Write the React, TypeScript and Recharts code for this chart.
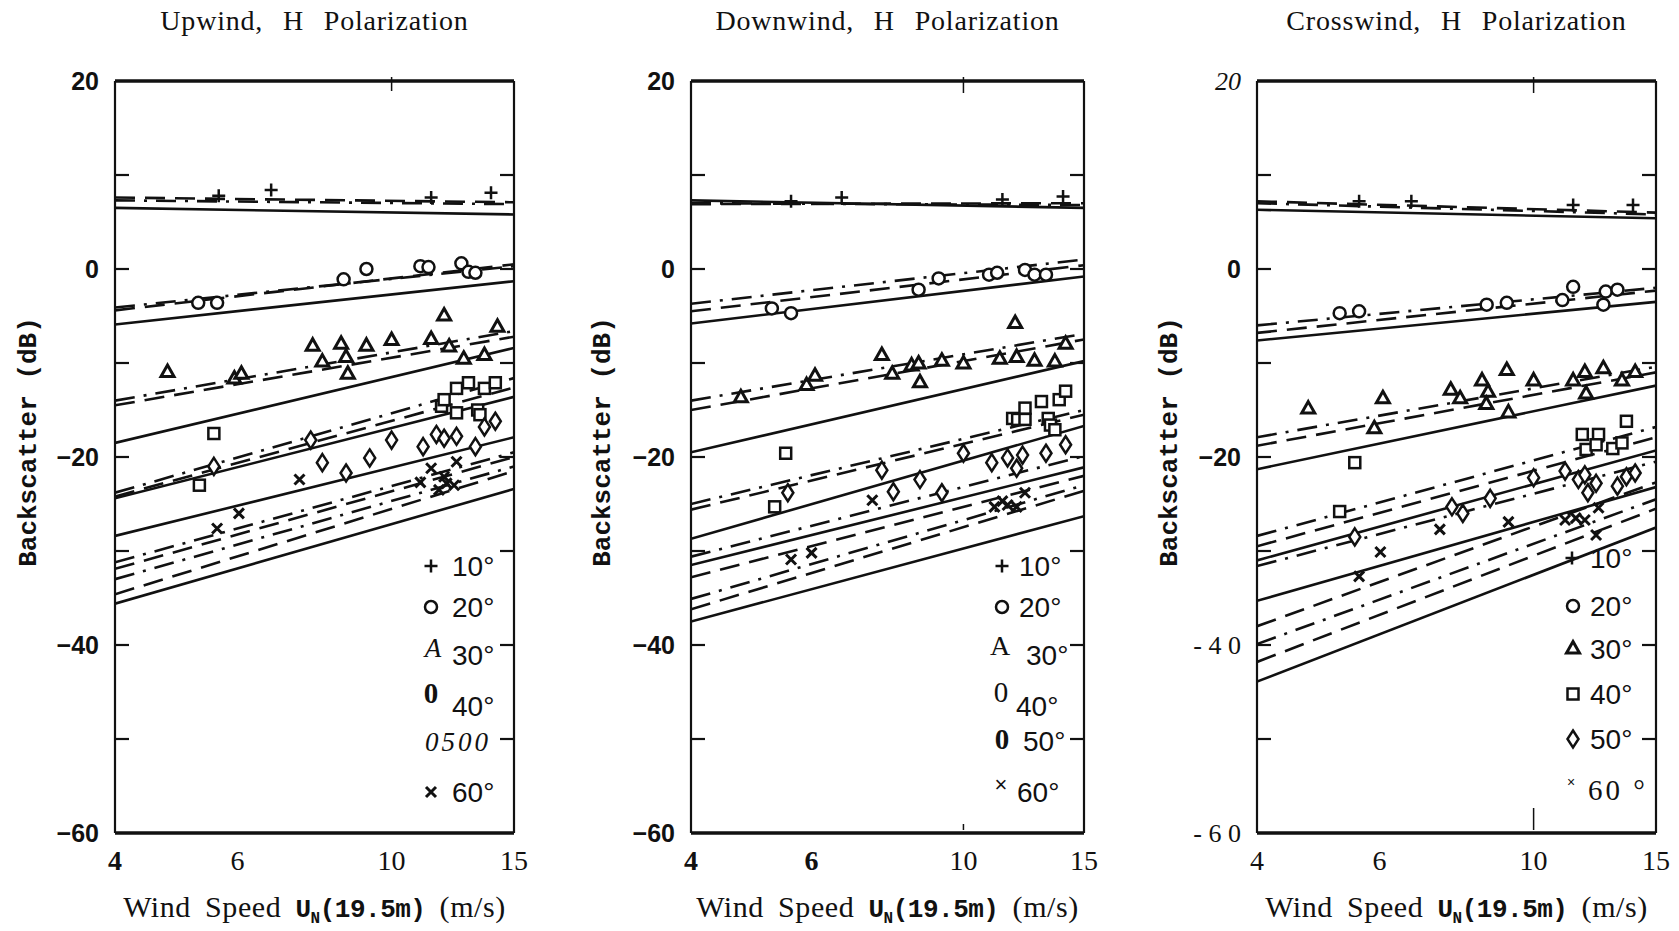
import React from 'react'
import { ComposedChart, Line, Scatter, XAxis, YAxis } from 'recharts'

type Pt = [number, number]
type Ends = [number, number]

const SPEED_ENDS = [4, 15]
const SPEED_TICKS = [4, 6, 10, 15]
const DB_TICKS = [-60, -50, -40, -30, -20, -10, 0, 10, 20]
const ANGLES = ['10°', '20°', '30°', '40°', '50°', '60°']
const MARKERS = ['plus', 'circle', 'tri', 'square', 'diamond', 'cross']

// model curves: backscatter (dB) at 4 and 15 m/s, one pair per incidence angle 10..60
const upwindSolid: Ends[] = [[6.5, 5.8], [-5.9, -1.3], [-18.5, -8.4], [-24.4, -13.6], [-28.4, -17.9], [-35.6, -23.4]]
const upwindDashed: Ends[] = [[7.6, 7.1], [-4.4, 0.5], [-14.5, -7.2], [-24.2, -12.6], [-31.9, -20.0], [-34.6, -21.5]]
const upwindDashDot: Ends[] = [[7.3, 6.9], [-4.1, 0.3], [-14.0, -6.6], [-23.8, -11.6], [-31.2, -19.5], [-33.0, -21.0]]

const downwindSolid: Ends[] = [[7.3, 6.5], [-5.8, -0.8], [-19.5, -9.8], [-28.7, -16.7], [-31.5, -21.1], [-37.5, -26.3]]
const downwindDashed: Ends[] = [[6.9, 7.0], [-4.5, 0.4], [-15.0, -7.5], [-25.6, -15.5], [-32.8, -22.0], [-36.2, -23.6]]
const downwindDashDot: Ends[] = [[7.0, 6.8], [-3.7, 1.0], [-14.0, -6.9], [-25.0, -15.0], [-30.6, -19.9], [-35.1, -23.0]]

const crosswindSolid: Ends[] = [[6.3, 5.4], [-7.6, -3.5], [-21.3, -12.4], [-31.0, -19.3], [-35.3, -23.2], [-43.9, -27.5]]
const crosswindDashed: Ends[] = [[7.2, 6.0], [-6.8, -2.3], [-18.8, -11.0], [-29.5, -17.9], [-38.0, -22.7], [-41.8, -25.5]]
const crosswindDashDot: Ends[] = [[7.0, 5.8], [-6.0, -2.0], [-17.9, -10.4], [-28.4, -16.8], [-31.6, -20.5], [-39.9, -24.5]]

// measurements [wind speed m/s, dB]
const up10: Pt[] = [[5.64, 7.8], [6.71, 8.4], [11.4, 7.6], [13.9, 8.1]]
const up20: Pt[] = [[5.27, -3.6], [5.61, -3.6], [8.53, -1.1], [9.2, 0.0], [11.0, 0.3], [11.3, 0.2], [12.6, 0.6], [12.9, -0.3], [13.2, -0.4]]
const up30: Pt[] = [[4.76, -10.9], [5.94, -11.6], [6.08, -11.1], [7.7, -8.1], [7.95, -9.8], [8.46, -7.9], [8.6, -9.3], [8.65, -11.1], [9.2, -8.1], [10.0, -7.5], [11.4, -7.4], [11.9, -4.9], [12.1, -8.2], [12.7, -9.5], [13.6, -9.1], [14.2, -6.1]]
const up40: Pt[] = [[5.55, -17.5], [5.29, -23.0], [11.8, -14.6], [11.9, -13.9], [12.4, -12.7], [12.9, -12.1], [13.6, -12.7], [14.1, -12.1], [12.4, -15.3], [13.3, -15.0], [13.4, -15.5]]
const up50: Pt[] = [[7.65, -18.2], [5.55, -21.0], [7.95, -20.6], [8.6, -21.7], [9.3, -20.1], [10.0, -18.2], [11.1, -18.9], [11.6, -17.6], [11.9, -18.0], [12.4, -17.8], [13.2, -18.9], [13.6, -16.8], [14.1, -16.2]]
const up60: Pt[] = [[5.61, -27.6], [6.03, -26.0], [7.37, -22.4], [11.0, -22.7], [11.4, -21.2], [11.7, -23.5], [11.9, -22.1], [12.4, -20.5], [12.0, -22.8], [12.3, -23.0]]

const dn10: Pt[] = [[5.6, 7.2], [6.64, 7.6], [11.4, 7.4], [13.98, 7.7]]
const dn20: Pt[] = [[5.25, -4.2], [5.6, -4.7], [8.6, -2.2], [9.2, -1.0], [10.9, -0.6], [11.2, -0.4], [12.3, -0.1], [12.7, -0.6], [13.2, -0.6]]
const dn30: Pt[] = [[4.73, -13.6], [5.9, -12.3], [6.07, -11.3], [7.6, -9.1], [7.87, -11.1], [8.4, -10.2], [8.6, -10.0], [8.64, -12.0], [9.3, -9.7], [10.0, -10.0], [11.9, -5.7], [11.3, -9.5], [11.96, -9.3], [12.7, -9.7], [13.6, -9.8], [14.1, -7.9]]
const dn40: Pt[] = [[5.5, -19.6], [5.3, -25.3], [11.8, -15.9], [12.0, -16.0], [12.3, -16.0], [12.3, -14.8], [13.0, -14.1], [13.3, -15.9], [13.4, -16.6], [13.6, -17.1], [13.8, -13.9], [14.1, -13.0]]
const dn50: Pt[] = [[7.6, -21.4], [8.64, -22.4], [7.9, -23.7], [9.3, -23.8], [10.0, -19.6], [11.0, -20.6], [11.6, -20.1], [11.96, -21.2], [12.2, -19.8], [13.2, -19.6], [14.1, -18.7], [5.54, -23.8]]
const dn60: Pt[] = [[5.6, -30.9], [6.0, -30.2], [7.36, -24.6], [11.1, -25.3], [11.4, -24.7], [11.6, -25.1], [11.96, -25.3], [12.3, -23.8]]

const cr10: Pt[] = [[5.61, 7.2], [6.67, 7.2], [11.4, 6.8], [13.9, 6.8]]
const cr20: Pt[] = [[5.26, -4.7], [5.61, -4.5], [8.56, -3.8], [9.15, -3.6], [11.0, -3.3], [11.4, -1.9], [12.6, -3.8], [12.7, -2.4], [13.2, -2.2]]
const cr30: Pt[] = [[4.74, -14.8], [6.07, -13.7], [5.9, -16.9], [7.6, -12.8], [7.84, -13.7], [8.43, -11.8], [8.6, -13.0], [8.55, -14.3], [9.15, -10.7], [9.2, -15.2], [10.0, -11.8], [11.4, -11.8], [11.85, -10.9], [11.9, -13.2], [12.6, -10.5], [13.4, -11.8], [14.0, -10.9]]
const cr40: Pt[] = [[5.53, -20.6], [5.26, -25.8], [11.75, -17.6], [12.4, -17.6], [11.9, -19.2], [12.3, -18.7], [13.0, -19.1], [13.4, -18.5], [13.6, -16.2]]
const cr50: Pt[] = [[5.53, -28.5], [7.63, -25.3], [7.91, -26.0], [8.66, -24.4], [10.0, -22.2], [11.1, -21.5], [11.6, -22.4], [11.85, -21.9], [11.97, -23.8], [12.3, -22.8], [13.2, -23.1], [13.6, -22.1], [14.0, -21.7]]
const cr60: Pt[] = [[5.61, -32.7], [6.02, -30.1], [7.33, -27.7], [9.2, -26.9], [11.1, -26.7], [11.5, -26.5], [11.85, -26.7], [12.4, -25.4], [12.3, -28.3]]

const INK = '#111'
const H = 931
const PLOT_TOP = 81
const PLOT_BOTTOM = 833
const SANS = '"Liberation Sans", Arial, sans-serif'
const SERIF = '"Liberation Serif", "Times New Roman", serif'
const MONO = '"Liberation Mono", "Courier New", monospace'

const toRows = (pts: Pt[]) => pts.map(([u, v]) => ({ u, v }))
const toLine = ([a, b]: Ends) => [{ u: SPEED_ENDS[0], v: a }, { u: SPEED_ENDS[1], v: b }]

function drawMark(kind: string, cx: number, cy: number) {
  const sw = 2.5
  switch (kind) {
    case 'plus':
      return <path d={`M${cx - 6.5},${cy}H${cx + 6.5}M${cx},${cy - 6.5}V${cy + 6.5}`} stroke={INK} strokeWidth={sw} fill="none" />
    case 'circle':
      return <circle cx={cx} cy={cy} r={6} fill="#fff" stroke={INK} strokeWidth={sw} />
    case 'tri':
      return <polygon points={`${cx},${cy - 6.5} ${cx + 6.5},${cy + 5} ${cx - 6.5},${cy + 5}`} fill="#fff" stroke={INK} strokeWidth={sw + 0.5} />
    case 'square':
      return <rect x={cx - 5.5} y={cy - 5.5} width={11} height={11} fill="#fff" stroke={INK} strokeWidth={sw} />
    case 'diamond':
      return <polygon points={`${cx},${cy - 8.5} ${cx + 5.5},${cy} ${cx},${cy + 8.5} ${cx - 5.5},${cy}`} fill="#fff" stroke={INK} strokeWidth={sw} />
    default:
      return <path d={`M${cx - 5},${cy - 5}L${cx + 5},${cy + 5}M${cx + 5},${cy - 5}L${cx - 5},${cy + 5}`} stroke={INK} strokeWidth={sw + 0.5} fill="none" />
  }
}

const markShape = (kind: string) => (p: any) => (p.cx == null ? <g /> : drawMark(kind, p.cx, p.cy))

type LegendRow = {
  mark?: string
  sym?: string
  symStyle?: React.CSSProperties
  label: string
  labelStyle?: React.CSSProperties
  gx: number
  gy: number
  lx: number
  ly: number
}

interface PanelCfg {
  title: string
  left: number
  width: number
  plotLeft: number
  plotRight: number
  yTitleX: number
  solid: Ends[]
  dashed: Ends[]
  dashDot: Ends[]
  points: Pt[][]
  yLabel: (v: number) => { text: string; style: React.CSSProperties } | null
  boldX: number[]
  topTickLen: number
  bottomTickLen: number
  legend: LegendRow[]
}

const sansLabel = (v: number) => {
  if (v % 20 !== 0) return null
  return { text: v < 0 ? `\u2212${-v}` : `${v}`, style: { fontFamily: SANS, fontSize: 25, fontWeight: 700 } }
}

const crossLabel = (v: number) => {
  if (v % 20 !== 0) return null
  if (v === 20) return { text: '20', style: { fontFamily: SERIF, fontStyle: 'italic', fontSize: 26 } }
  if (v <= -40) return { text: `- ${String(-v)[0]} 0`, style: { fontFamily: SERIF, fontSize: 26 } }
  return sansLabel(v)
}

const LEG_FONT: React.CSSProperties = { fontFamily: SANS, fontSize: 28 }

const PANELS: PanelCfg[] = [
  {
    title: 'Upwind, H Polarization',
    left: 0, width: 560, plotLeft: 115, plotRight: 514, yTitleX: 29,
    solid: upwindSolid, dashed: upwindDashed, dashDot: upwindDashDot,
    points: [up10, up20, up30, up40, up50, up60],
    yLabel: sansLabel, boldX: [4], topTickLen: 10, bottomTickLen: 0,
    legend: [
      { mark: 'plus', label: ANGLES[0], gx: 431, gy: 566, lx: 452, ly: 567 },
      { mark: 'circle', label: ANGLES[1], gx: 431, gy: 607, lx: 452, ly: 608 },
      { sym: 'A', symStyle: { fontFamily: SERIF, fontStyle: 'italic', fontSize: 27 }, label: ANGLES[2], gx: 433, gy: 648, lx: 452, ly: 656 },
      { sym: '0', symStyle: { fontFamily: SERIF, fontWeight: 700, fontSize: 29 }, label: ANGLES[3], gx: 431, gy: 693, lx: 452, ly: 707 },
      { sym: '0500', symStyle: { fontFamily: SERIF, fontStyle: 'italic', fontSize: 27, letterSpacing: 3 }, label: '', gx: 458, gy: 742, lx: 0, ly: 0 },
      { mark: 'cross', label: ANGLES[5], gx: 431, gy: 792, lx: 452, ly: 793 },
    ],
  },
  {
    title: 'Downwind, H Polarization',
    left: 576, width: 560, plotLeft: 691, plotRight: 1084, yTitleX: 603,
    solid: downwindSolid, dashed: downwindDashed, dashDot: downwindDashDot,
    points: [dn10, dn20, dn30, dn40, dn50, dn60],
    yLabel: sansLabel, boldX: [4, 6], topTickLen: 12, bottomTickLen: 6,
    legend: [
      { mark: 'plus', label: ANGLES[0], gx: 1002, gy: 566, lx: 1019, ly: 567 },
      { mark: 'circle', label: ANGLES[1], gx: 1002, gy: 607, lx: 1019, ly: 608 },
      { sym: 'A', symStyle: { fontFamily: SERIF, fontSize: 28 }, label: ANGLES[2], gx: 1000, gy: 646, lx: 1026, ly: 656 },
      { sym: '0', symStyle: { fontFamily: SERIF, fontSize: 29 }, label: ANGLES[3], gx: 1001, gy: 692, lx: 1016, ly: 707 },
      { sym: '0', symStyle: { fontFamily: SERIF, fontWeight: 700, fontSize: 29 }, label: ANGLES[4], gx: 1002, gy: 739, lx: 1023, ly: 742 },
      { sym: '\u00d7', symStyle: { fontFamily: SANS, fontSize: 22 }, label: ANGLES[5], gx: 1001, gy: 785, lx: 1017, ly: 793 },
    ],
  },
  {
    title: 'Crosswind, H Polarization',
    left: 1142, width: 537, plotLeft: 1257, plotRight: 1656, yTitleX: 1170,
    solid: crosswindSolid, dashed: crosswindDashed, dashDot: crosswindDashDot,
    points: [cr10, cr20, cr30, cr40, cr50, cr60],
    yLabel: crossLabel, boldX: [], topTickLen: 12, bottomTickLen: 22,
    legend: [
      { mark: 'plus', label: ANGLES[0], gx: 1572, gy: 558, lx: 1590, ly: 559 },
      { mark: 'circle', label: ANGLES[1], gx: 1573, gy: 606, lx: 1590, ly: 607 },
      { mark: 'tri', label: ANGLES[2], gx: 1573, gy: 648, lx: 1590, ly: 650 },
      { mark: 'square', label: ANGLES[3], gx: 1573, gy: 694, lx: 1590, ly: 695 },
      { mark: 'diamond', label: ANGLES[4], gx: 1573, gy: 739, lx: 1590, ly: 740 },
      { sym: '\u00d7', symStyle: { fontFamily: SANS, fontSize: 14 }, label: '60 °', labelStyle: { fontFamily: SERIF, fontSize: 29, letterSpacing: 3 }, gx: 1571, gy: 782, lx: 1588, ly: 790 },
    ],
  },
]

function Panel({ cfg }: { cfg: PanelCfg }) {
  const lines: React.ReactNode[] = []
  const styles: [Ends[], string | undefined][] = [
    [cfg.dashDot, '20 9 3 9'],
    [cfg.dashed, '20 10'],
    [cfg.solid, undefined],
  ]
  styles.forEach(([set, dash], s) => {
    set.forEach((ends, a) => {
      lines.push(
        <Line
          key={`l-${s}-${a}`}
          data={toLine(ends)}
          dataKey="v"
          xAxisId="b"
          yAxisId="l"
          type="linear"
          stroke={INK}
          strokeWidth={2.6}
          strokeDasharray={dash}
          dot={false}
          activeDot={false}
          isAnimationActive={false}
        />
      )
    })
  })

  const leftTick = (p: any) => {
    const { x, y, payload } = p
    const v = payload.value as number
    const lab = cfg.yLabel(v)
    return (
      <g>
        {v !== 20 && v !== -60 && <line x1={x} x2={x + 14} y1={y} y2={y} stroke={INK} strokeWidth={2.2} />}
        {lab && (
          <text x={x - 16} y={y} textAnchor="end" dominantBaseline="central" fill={INK} style={lab.style}>
            {lab.text}
          </text>
        )}
      </g>
    )
  }
  const rightTick = (p: any) => {
    const { x, y, payload } = p
    const v = payload.value as number
    if (v === 20 || v === -60) return <g />
    return <line x1={x} x2={x - 14} y1={y} y2={y} stroke={INK} strokeWidth={2.2} />
  }
  const bottomTick = (p: any) => {
    const { x, y, payload } = p
    const v = payload.value as number
    return (
      <g>
        {v === 10 && cfg.bottomTickLen > 0 && (
          <line x1={x} x2={x} y1={y - 3} y2={y - 3 - cfg.bottomTickLen} stroke={INK} strokeWidth={1.5} />
        )}
        <text
          x={x}
          y={y + 27}
          textAnchor="middle"
          dominantBaseline="central"
          fill={INK}
          style={{ fontFamily: SERIF, fontSize: 28, fontWeight: cfg.boldX.includes(v) ? 700 : 400 }}
        >
          {v}
        </text>
      </g>
    )
  }
  const topTick = (p: any) => {
    const { x, y } = p
    return <line x1={x} x2={x} y1={y - 4} y2={y + cfg.topTickLen} stroke={INK} strokeWidth={1.5} />
  }

  return (
    <div style={{ position: 'absolute', left: cfg.left, top: 0 }}>
      <ComposedChart
        width={cfg.width}
        height={H}
        margin={{ top: PLOT_TOP - 1, right: cfg.left + cfg.width - cfg.plotRight - 1, bottom: 0, left: 0 }}
      >
        <XAxis
          xAxisId="b"
          dataKey="u"
          type="number"
          scale="log"
          domain={[4, 15]}
          allowDataOverflow
          ticks={SPEED_TICKS}
          interval={0}
          height={H - PLOT_BOTTOM}
          tickSize={0}
          tickMargin={0}
          tickLine={false}
          axisLine={{ stroke: INK, strokeWidth: 3.5 }}
          tick={bottomTick}
        />
        <XAxis
          xAxisId="t"
          orientation="top"
          dataKey="u"
          type="number"
          scale="log"
          domain={[4, 15]}
          allowDataOverflow
          ticks={[10]}
          interval={0}
          height={1}
          tickSize={0}
          tickMargin={0}
          tickLine={false}
          axisLine={{ stroke: INK, strokeWidth: 3.5 }}
          tick={topTick}
        />
        <YAxis
          yAxisId="l"
          type="number"
          domain={[-60, 20]}
          allowDataOverflow
          ticks={DB_TICKS}
          interval={0}
          width={cfg.plotLeft - cfg.left}
          tickSize={0}
          tickMargin={0}
          tickLine={false}
          axisLine={{ stroke: INK, strokeWidth: 2.2 }}
          tick={leftTick}
        />
        <YAxis
          yAxisId="r"
          orientation="right"
          type="number"
          domain={[-60, 20]}
          allowDataOverflow
          ticks={DB_TICKS}
          interval={0}
          width={1}
          tickSize={0}
          tickMargin={0}
          tickLine={false}
          axisLine={{ stroke: INK, strokeWidth: 2.2 }}
          tick={rightTick}
        />
        {lines}
        {cfg.points.map((pts, a) => (
          <Scatter
            key={`s-${a}`}
            name={ANGLES[a]}
            data={toRows(pts)}
            dataKey="v"
            xAxisId="b"
            yAxisId="l"
            shape={markShape(MARKERS[a])}
            isAnimationActive={false}
          />
        ))}
      </ComposedChart>
    </div>
  )
}

function Overlay({ cfg }: { cfg: PanelCfg }) {
  const cx = (cfg.plotLeft + cfg.plotRight) / 2
  return (
    <>
      <div
        style={{
          position: 'absolute', left: cx - 300, width: 600, top: 4, textAlign: 'center',
          fontFamily: SERIF, fontSize: 28, lineHeight: '34px', wordSpacing: 12, letterSpacing: 0.8, whiteSpace: 'nowrap', color: INK,
        }}
      >
        {cfg.title}
      </div>
      <div
        style={{
          position: 'absolute', left: cx - 300, width: 600, top: 889, textAlign: 'center',
          fontFamily: SERIF, fontSize: 30, lineHeight: '36px', wordSpacing: 6, letterSpacing: 0.6, whiteSpace: 'nowrap', color: INK,
        }}
      >
        Wind Speed{' '}
        <span style={{ fontFamily: MONO, fontWeight: 700, fontSize: 26, letterSpacing: -0.5 }}>
          U<sub style={{ fontSize: 16 }}>N</sub>(19.5m)
        </span>{' '}
        (m/s)
      </div>
      <div
        style={{
          position: 'absolute', left: cfg.yTitleX - 200, top: 442 - 16, width: 400, height: 32,
          textAlign: 'center', lineHeight: '32px', transform: 'rotate(-90deg)',
          fontFamily: MONO, fontWeight: 700, fontSize: 26, whiteSpace: 'nowrap', color: INK,
        }}
      >
        Backscatter (dB)
      </div>
      {cfg.legend.map((r, i) => (
        <React.Fragment key={i}>
          {r.mark && (
            <svg style={{ position: 'absolute', left: r.gx - 12, top: r.gy - 12 }} width={24} height={24}>
              {drawMark(r.mark, 12, 12)}
            </svg>
          )}
          {r.sym && (
            <div
              style={{
                position: 'absolute', left: r.gx, top: r.gy, transform: 'translate(-50%, -50%)',
                lineHeight: 1, whiteSpace: 'nowrap', color: INK, ...r.symStyle,
              }}
            >
              {r.sym}
            </div>
          )}
          {r.label && (
            <div
              style={{
                position: 'absolute', left: r.lx, top: r.ly, transform: 'translateY(-50%)',
                lineHeight: 1, whiteSpace: 'nowrap', color: INK, ...LEG_FONT, ...r.labelStyle,
              }}
            >
              {r.label}
            </div>
          )}
        </React.Fragment>
      ))}
    </>
  )
}

export default function App() {
  return (
    <div style={{ position: 'absolute', left: 0, top: 0, width: 1679, height: H, background: '#fff', overflow: 'hidden' }}>
      {PANELS.map((cfg, i) => (
        <Panel key={i} cfg={cfg} />
      ))}
      {PANELS.map((cfg, i) => (
        <Overlay key={`o-${i}`} cfg={cfg} />
      ))}
    </div>
  )
}
